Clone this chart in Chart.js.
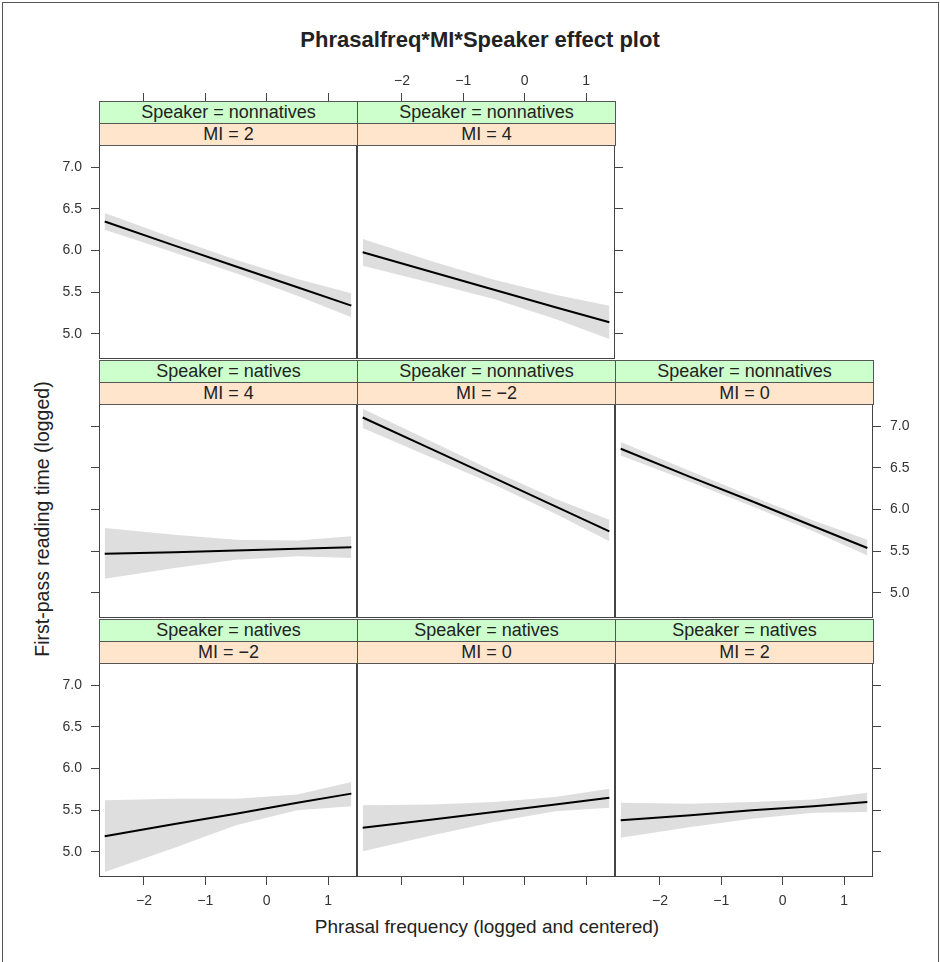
<!DOCTYPE html>
<html>
<head>
<meta charset="utf-8">
<script src="https://cdn.jsdelivr.net/npm/chart.js@4.4.1/dist/chart.umd.min.js"></script>
<style>
  body { margin: 0; background: #fff; font-family: "Liberation Sans", Arial, sans-serif; }
  #page { position: relative; width: 940px; height: 962px; overflow: hidden; }
  #frame { position: absolute; left: 2px; top: 2px; width: 935px; height: 970px; border: 1px solid #555; }
  canvas { position: absolute; }
  .strip { position: absolute; box-sizing: border-box; border: 1px solid #555; height: 23px;
           text-align: center; font-size: 18px; line-height: 21px; color: #222; }
  .green { background: #ccffcc; }
  .peach { background: #ffe5cc; }
  .txt { position: absolute; color: #222; white-space: nowrap; }
</style>
</head>
<body>
<div id="page">
  <div id="frame"></div>
  <div class="txt" id="title" style="left:0;width:960px;top:27px;text-align:center;font-weight:bold;font-size:22px;">Phrasalfreq*MI*Speaker effect plot</div>
  <div class="txt" style="left:0;width:974px;top:916px;text-align:center;font-size:19px;">Phrasal frequency (logged and centered)</div>
  <div class="txt" style="left:42px;top:519px;font-size:19.5px;transform:translate(-50%,-50%) rotate(-90deg);">First-pass reading time (logged)</div>
</div>
<script>
// x positions where the effect and its band are read
const xs = [-2.64, -1.5, -0.5, 0.5, 1.38];
const xTicks = [-2, -1, 0, 1];
const yTicks = [5.0, 5.5, 6.0, 6.5, 7.0];

// Speaker = nonnatives
const fitNonMI2 = [6.35, 6.06, 5.81, 5.56, 5.34];
const lowNonMI2 = [6.25, 5.975, 5.73, 5.46, 5.20];
const upNonMI2 = [6.45, 6.145, 5.89, 5.66, 5.49];

const fitNonMI4 = [5.98, 5.74, 5.53, 5.32, 5.14];
const lowNonMI4 = [5.82, 5.61, 5.42, 5.18, 4.94];
const upNonMI4 = [6.14, 5.87, 5.65, 5.47, 5.34];

const fitNonMIm2 = [7.105, 6.72, 6.38, 6.04, 5.74];
const lowNonMIm2 = [6.98, 6.62, 6.30, 5.95, 5.62];
const upNonMIm2 = [7.21, 6.81, 6.46, 6.13, 5.88];

const fitNonMI0 = [6.73, 6.39, 6.10, 5.80, 5.54];
const lowNonMI0 = [6.65, 6.33, 6.04, 5.74, 5.45];
const upNonMI0 = [6.81, 6.46, 6.16, 5.87, 5.64];

// Speaker = natives
const fitNatMI4 = [5.47, 5.49, 5.51, 5.53, 5.55];
const lowNatMI4 = [5.17, 5.30, 5.40, 5.44, 5.42];
const upNatMI4 = [5.78, 5.70, 5.64, 5.63, 5.68];

const fitNatMIm2 = [5.19, 5.335, 5.46, 5.59, 5.70];
const lowNatMIm2 = [4.76, 5.05, 5.32, 5.50, 5.55];
const upNatMIm2 = [5.62, 5.64, 5.64, 5.69, 5.84];

const fitNatMI0 = [5.29, 5.39, 5.48, 5.57, 5.65];
const lowNatMI0 = [5.01, 5.20, 5.36, 5.49, 5.53];
const upNatMI0 = [5.56, 5.57, 5.60, 5.66, 5.76];

const fitNatMI2 = [5.38, 5.44, 5.50, 5.55, 5.60];
const lowNatMI2 = [5.17, 5.30, 5.40, 5.47, 5.48];
const upNatMI2 = [5.59, 5.58, 5.60, 5.63, 5.71];

const xMin = -2.733, xMax = 1.472;
const yMin = 4.70, yMax = 7.267;

// layout of the lattice
const M = 50;
const STRIPS = 44;
const colLeft = [99, 357, 615];
const rowTop = [145, 404, 663];
const PW = 258, PH = 214;

// axis sides: 'none' | 'ticks' | 'labels'
const panels = [
    { row: 0, col: 0, speaker: 'nonnatives', mi: '2', fit: fitNonMI2, low: lowNonMI2, up: upNonMI2,
      top: 'ticks', bottom: 'none', left: 'labels', right: 'none' },
    { row: 0, col: 1, speaker: 'nonnatives', mi: '4', fit: fitNonMI4, low: lowNonMI4, up: upNonMI4,
      top: 'labels', bottom: 'none', left: 'none', right: 'ticks' },
    { row: 1, col: 0, speaker: 'natives', mi: '4', fit: fitNatMI4, low: lowNatMI4, up: upNatMI4,
      top: 'none', bottom: 'none', left: 'ticks', right: 'none' },
    { row: 1, col: 1, speaker: 'nonnatives', mi: '\u22122', fit: fitNonMIm2, low: lowNonMIm2, up: upNonMIm2,
      top: 'none', bottom: 'none', left: 'none', right: 'none' },
    { row: 1, col: 2, speaker: 'nonnatives', mi: '0', fit: fitNonMI0, low: lowNonMI0, up: upNonMI0,
      top: 'none', bottom: 'none', left: 'none', right: 'labels' },
    { row: 2, col: 0, speaker: 'natives', mi: '\u22122', fit: fitNatMIm2, low: lowNatMIm2, up: upNatMIm2,
      top: 'none', bottom: 'labels', left: 'labels', right: 'none' },
    { row: 2, col: 1, speaker: 'natives', mi: '0', fit: fitNatMI0, low: lowNatMI0, up: upNatMI0,
      top: 'none', bottom: 'ticks', left: 'none', right: 'none' },
    { row: 2, col: 2, speaker: 'natives', mi: '2', fit: fitNatMI2, low: lowNatMI2, up: upNatMI2,
      top: 'none', bottom: 'labels', left: 'none', right: 'ticks' }
];

const tickFont = { family: '"Liberation Sans", Arial, sans-serif', size: 14 };

function axisOpts(pos, mode, isX) {
    return {
        type: 'linear',
        position: pos,
        min: isX ? xMin : yMin,
        max: isX ? xMax : yMax,
        afterFit: s => { if (isX) s.height = M; else s.width = M; },
        afterBuildTicks: s => { s.ticks = (isX ? xTicks : yTicks).map(v => ({ value: v })); },
        grid: { drawOnChartArea: false, drawTicks: mode !== 'none', tickLength: 8, color: '#444', lineWidth: 1 },
        border: { display: false },
        ticks: {
            display: mode === 'labels',
            padding: pos === 'top' ? 3 : (isX ? 8 : 9),
            color: '#333',
            font: tickFont,
            maxRotation: 0,
            autoSkip: false,
            callback: v => isX ? String(v).replace('-', '\u2212') : Number(v).toFixed(1)
        }
    };
}

const boxPlugin = {
    id: 'box',
    afterDatasetsDraw(chart) {
        const a = chart.chartArea, ctx = chart.ctx;
        ctx.save();
        ctx.strokeStyle = '#444';
        ctx.lineWidth = 1;
        ctx.strokeRect(Math.round(a.left) + 0.5, Math.round(a.top) + 0.5,
            Math.round(a.right - a.left) - 1, Math.round(a.bottom - a.top) - 1);
        ctx.restore();
    }
};

const page = document.getElementById('page');
const pts = arr => xs.map((x, i) => ({ x: x, y: arr[i] }));

function addCanvas(left, top, w, h) {
    const canvas = document.createElement('canvas');
    canvas.width = w;
    canvas.height = h;
    canvas.style.left = left + 'px';
    canvas.style.top = top + 'px';
    page.appendChild(canvas);
    return canvas;
}

panels.forEach(p => {
    const left = colLeft[p.col], top = rowTop[p.row];
    const canvas = addCanvas(left - M, top - M, PW + 2 * M, PH + 2 * M);

    const s1 = document.createElement('div');
    s1.className = 'strip green';
    s1.style.cssText = `left:${left}px;top:${top - STRIPS}px;width:${PW + 1}px;`;
    s1.textContent = 'Speaker = ' + p.speaker;
    page.appendChild(s1);
    const s2 = document.createElement('div');
    s2.className = 'strip peach';
    s2.style.cssText = `left:${left}px;top:${top - STRIPS / 2}px;width:${PW + 1}px;`;
    s2.textContent = 'MI = ' + p.mi;
    page.appendChild(s2);

    new Chart(canvas.getContext('2d'), {
        type: 'line',
        data: {
            datasets: [
                { data: pts(p.fit), borderColor: '#000', borderWidth: 2, pointRadius: 0, fill: false, tension: 0 },
                { data: pts(p.up), borderWidth: 0, borderColor: 'rgba(0,0,0,0)', pointRadius: 0,
                  fill: '+1', backgroundColor: '#dedede', tension: 0 },
                { data: pts(p.low), borderWidth: 0, borderColor: 'rgba(0,0,0,0)', pointRadius: 0, fill: false, tension: 0 }
            ]
        },
        options: {
            responsive: false,
            animation: false,
            devicePixelRatio: 1,
            layout: { padding: 0 },
            plugins: { legend: { display: false }, tooltip: { enabled: false } },
            scales: {
                x: axisOpts('bottom', p.bottom, true),
                x2: axisOpts('top', 'none', true),
                y: axisOpts('left', p.left, false),
                y2: axisOpts('right', p.right, false)
            }
        },
        plugins: [boxPlugin]
    });

    // lattice puts the top axis above the strips
    if (p.top !== 'none') {
        const c2 = addCanvas(left - M, top - STRIPS - M, PW + 2 * M, M + STRIPS);
        new Chart(c2.getContext('2d'), {
            type: 'line',
            data: { datasets: [] },
            options: {
                responsive: false,
                animation: false,
                devicePixelRatio: 1,
                layout: { padding: { left: M, right: M, top: 0, bottom: 0 } },
                plugins: { legend: { display: false }, tooltip: { enabled: false } },
                scales: {
                    x: { display: false, type: 'linear', min: xMin, max: xMax },
                    y: { display: false, min: yMin, max: yMax },
                    x2: axisOpts('top', p.top, true)
                }
            }
        });
    }
});
</script>
</body>
</html>
